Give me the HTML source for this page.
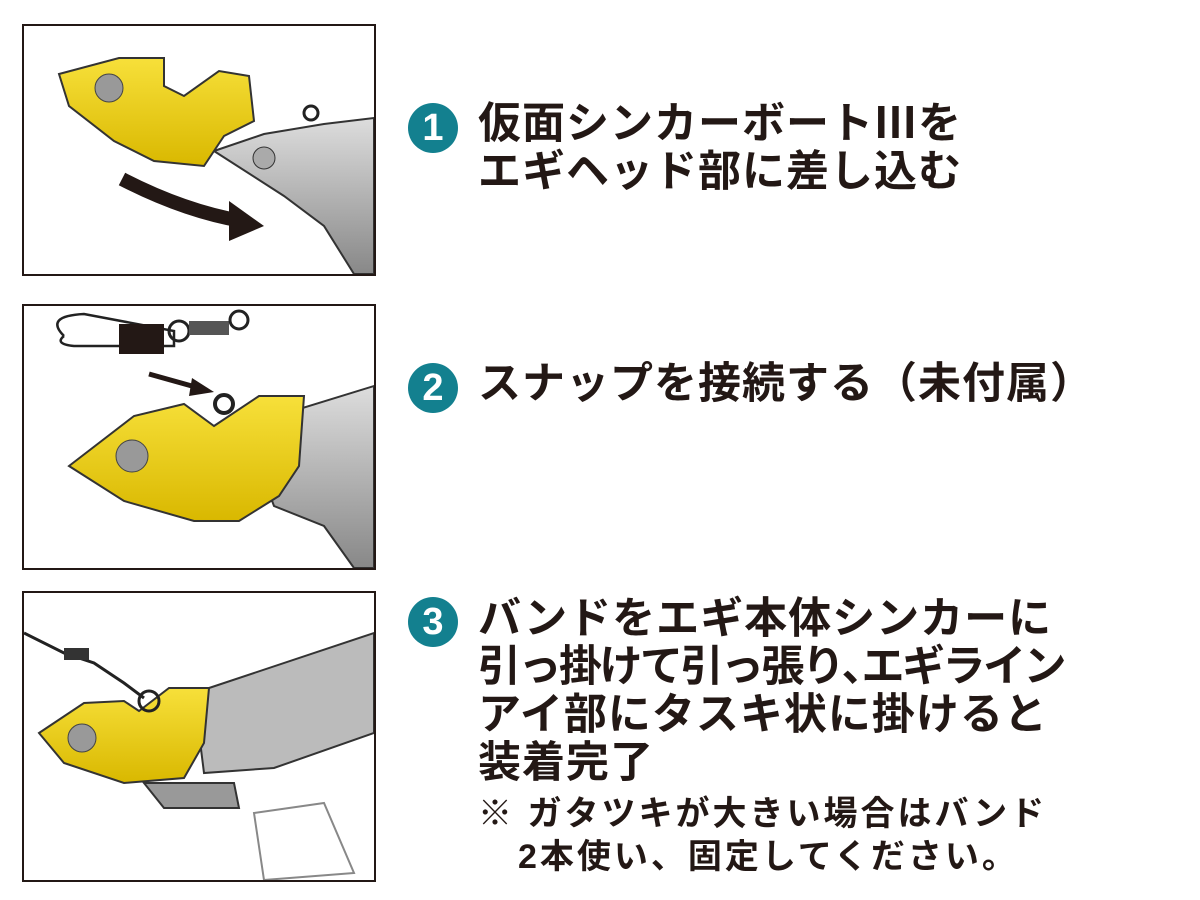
<!DOCTYPE html>
<html><head><meta charset="utf-8"><style>
html,body{margin:0;padding:0;background:#fff;}
body{width:1200px;height:900px;position:relative;overflow:hidden;font-family:"Liberation Sans","Noto Sans CJK JP",sans-serif;}
.panel{position:absolute;left:22px;width:350px;border:2.5px solid #231815;background:#fff;overflow:hidden;}
.num{position:absolute;width:50px;height:50px;border-radius:50%;background:#13808f;color:#fff;font-weight:bold;font-size:38px;line-height:50px;text-align:center;left:408px;}
.t{position:absolute;left:478px;font-size:43px;font-weight:bold;color:#231815;line-height:48px;letter-spacing:1px;white-space:nowrap;}
.n{position:absolute;font-size:34px;font-weight:bold;color:#231815;line-height:43px;white-space:nowrap;letter-spacing:3px;}
</style></head><body>

<div class="panel" style="top:24px;height:248px;">
<svg width="350" height="248">
<defs><linearGradient id="g" x1="0" y1="0" x2="0" y2="1"><stop offset="0" stop-color="#ddd"/><stop offset="1" stop-color="#888"/></linearGradient>
<linearGradient id="y" x1="0" y1="0" x2="0" y2="1"><stop offset="0" stop-color="#f7e03a"/><stop offset="1" stop-color="#d9b800"/></linearGradient></defs>
<path d="M190 125 L240 108 L300 98 L350 92 L350 248 L330 248 L300 200 L260 170 Z" fill="url(#g)" stroke="#333" stroke-width="2"/>
<circle cx="287" cy="87" r="7" fill="none" stroke="#222" stroke-width="3"/>
<circle cx="240" cy="132" r="11" fill="#aaa" stroke="#333"/>
<path d="M35 48 L95 32 L140 32 L140 60 L160 70 L195 45 L225 50 L230 95 L200 110 L180 140 L130 135 L90 115 L45 80 Z" fill="url(#y)" stroke="#333" stroke-width="2"/>
<circle cx="85" cy="62" r="14" fill="#999" stroke="#444"/>
<path d="M98 153 Q160 185 218 195" fill="none" stroke="#231815" stroke-width="14"/>
<path d="M205 175 L240 200 L205 215 Z" fill="#231815"/>
</svg></div>

<div class="panel" style="top:304px;height:262px;">
<svg width="350" height="262">
<path d="M220 120 L350 80 L350 262 L330 262 L300 220 L250 200 Z" fill="url(#g)" stroke="#333" stroke-width="2"/>
<path d="M45 160 L110 110 L160 98 L190 120 L235 90 L280 90 L275 160 L255 190 L215 215 L170 215 L100 195 Z" fill="url(#y)" stroke="#333" stroke-width="2"/>
<circle cx="200" cy="98" r="9" fill="none" stroke="#222" stroke-width="4"/>
<circle cx="108" cy="150" r="16" fill="#999" stroke="#444"/>
<path d="M125 68 L175 82" stroke="#231815" stroke-width="5"/><path d="M168 72 L190 86 L165 90 Z" fill="#231815"/>
<path d="M40 30 Q20 10 60 8 L150 25 L150 40 L50 40 Q30 38 40 30" fill="none" stroke="#222" stroke-width="2.5"/>
<rect x="95" y="18" width="45" height="30" fill="#231815"/>
<circle cx="155" cy="25" r="10" fill="none" stroke="#222" stroke-width="3"/>
<rect x="165" y="15" width="40" height="14" fill="#555"/>
<circle cx="215" cy="14" r="9" fill="none" stroke="#222" stroke-width="3"/>
</svg></div>

<div class="panel" style="top:591px;height:287px;">
<svg width="350" height="287">
<path d="M170 100 L350 40 L350 140 L250 175 L180 180 Z" fill="#bbb" stroke="#333" stroke-width="2"/>
<path d="M120 190 L210 190 L215 215 L140 215 Z" fill="#999" stroke="#333" stroke-width="2"/>
<path d="M230 220 L300 210 L330 280 L240 287 Z" fill="#fff" stroke="#888" stroke-width="2"/>
<path d="M15 140 L60 110 L100 108 L115 118 L145 95 L185 95 L180 150 L160 185 L100 190 L40 170 Z" fill="url(#y)" stroke="#333" stroke-width="2"/>
<circle cx="58" cy="145" r="14" fill="#999" stroke="#444"/>
<circle cx="125" cy="108" r="10" fill="none" stroke="#222" stroke-width="3"/>
<path d="M0 40 L40 60 L70 70 L100 90 L120 105" fill="none" stroke="#222" stroke-width="3"/>
<rect x="40" y="55" width="25" height="12" fill="#333"/>
</svg></div>

<div class="num" style="top:103px;">1</div>
<div class="t" style="top:100px;">仮面シンカーボートⅢを<br>エギヘッド部に差し込む</div>

<div class="num" style="top:363px;">2</div>
<div class="t" style="top:360px;">スナップを接続する（未付属）</div>

<div class="num" style="top:597px;">3</div>
<div class="t" style="top:595px;">バンドをエギ本体シンカーに<br><span style="letter-spacing:-2.5px">引っ掛けて引っ張り､エギライン</span><br>アイ部にタスキ状に掛けると<br>装着完了</div>
<div class="n" style="left:478px;top:793px;">※ ガタツキが大きい場合はバンド</div>
<div class="n" style="left:518px;top:836px;">2本使い、固定してください。</div>
</body></html>
